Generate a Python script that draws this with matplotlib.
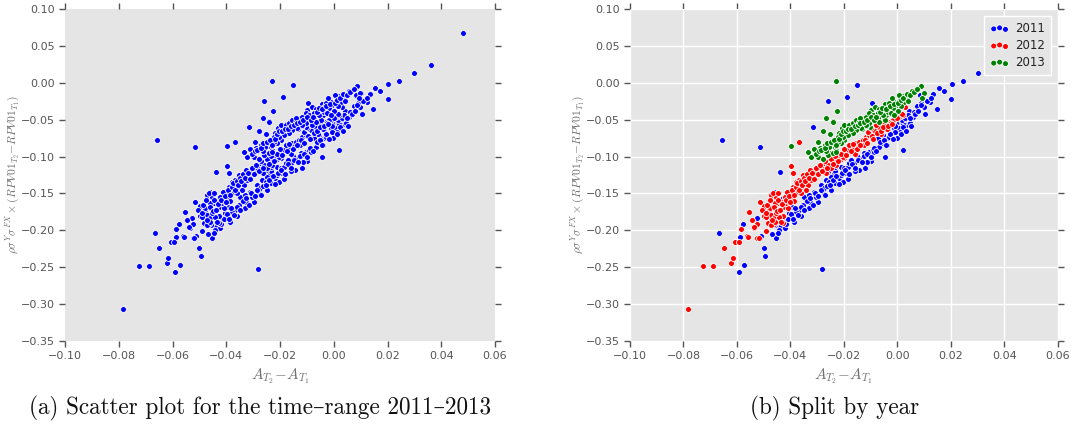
import matplotlib
matplotlib.use("Agg")
import matplotlib.pyplot as plt
import numpy as np

plt.rcParams['mathtext.fontset'] = 'cm'
plt.rcParams['axes.unicode_minus'] = True

years = ["2011", "2012", "2013"]
colors = ["#0000FF", "#FF0000", "#008000"]

x_2011 = [-0.0657, -0.0515, -0.0667, -0.0591, -0.0574, -0.0587, -0.0577, -0.0526, -0.0511, -0.0500,
          -0.0494, -0.0452, -0.0440, -0.0425, -0.0283, -0.0440, -0.0317, -0.0258, -0.0190, -0.0151,
          -0.0297, -0.0291, -0.0403, -0.0385, -0.0422, -0.0441, -0.0468, -0.0366, -0.0378, -0.0354,
          -0.0341, -0.0323, -0.0298, -0.0304, -0.0279, -0.0248, -0.0235, -0.0217, -0.0204, -0.0192,
          -0.0242, -0.0260, -0.0273, -0.0395, -0.0360, -0.0330, -0.0312, -0.0286, -0.0266, -0.0232,
          -0.0254, -0.0248, -0.0254, -0.0235, -0.0210, -0.0198, -0.0186, -0.0179, -0.0161, -0.0136,
          -0.0123, -0.0105, -0.0092, -0.0086, -0.0067, -0.0055, -0.0036, -0.0024, -0.0005, 0.0007,
          0.0013, 0.0026, 0.0032, -0.0036, -0.0055, -0.0074, -0.0074, -0.0005, -0.0011, -0.0150,
          -0.0172, 0.0244, 0.0203, 0.0154, 0.0173, 0.0135, 0.0200, 0.0084, 0.0101, 0.0122,
          0.0074, 0.0098, 0.0147, 0.0104, 0.0057, 0.0042, 0.0047, 0.0020, 0.0005, 0.0026,
          0.0011, -0.0008, -0.0030, -0.0003, 0.0016, 0.0030, 0.0038, 0.0062, 0.0300, 0.0360,
          0.0480, -0.0095, -0.0322, -0.0460, -0.0428, -0.0406, -0.0045, 0.0020, -0.0120, -0.0185,
          -0.0145, -0.0100, -0.0040, 0.0090, -0.0210, -0.0160, -0.0350, -0.0330, -0.0275, -0.0115,
          -0.0458, -0.0447, -0.0436, -0.0418, -0.0410, -0.0398, -0.0390, -0.0382, -0.0372, -0.0362,
          -0.0348, -0.0338, -0.0326, -0.0315, -0.0308, -0.0295, -0.0285, -0.0272, -0.0262, -0.0252,
          -0.0240, -0.0228, -0.0218, -0.0207, -0.0196, -0.0182, -0.0170, -0.0158, -0.0148, -0.0132,
          -0.0126, -0.0112, -0.0098, -0.0088, -0.0078, -0.0064, -0.0050, -0.0044, -0.0028, -0.0018,
          -0.0008, 0.0012, 0.0022, 0.0034, 0.0048, 0.0052, 0.0066, 0.0078, 0.0088, 0.0110,
          0.0125]
y_2011 = [-0.0775, -0.0870, -0.2030, -0.2570, -0.2465, -0.2090, -0.1910, -0.1836, -0.2070, -0.2238,
          -0.2343, -0.2110, -0.1950, -0.1841, -0.2520, -0.1205, -0.0595, -0.0250, -0.0190, -0.0030,
          -0.0934, -0.1114, -0.1814, -0.1882, -0.1972, -0.1995, -0.2050, -0.1724, -0.1747, -0.1656,
          -0.1589, -0.1634, -0.1611, -0.1543, -0.1476, -0.1453, -0.1363, -0.1295, -0.1340, -0.1227,
          -0.1250, -0.1227, -0.1191, -0.1690, -0.1800, -0.1700, -0.1480, -0.1390, -0.1320, -0.1200,
          -0.1182, -0.1272, -0.1340, -0.1137, -0.1137, -0.1160, -0.1137, -0.1092, -0.1092, -0.1024,
          -0.0956, -0.0934, -0.0911, -0.0934, -0.0866, -0.0821, -0.0753, -0.0730, -0.0663, -0.0640,
          -0.0550, -0.0527, -0.0572, -0.0640, -0.0708, -0.0753, -0.0663, -0.0550, -0.0617, -0.0990,
          -0.1040, 0.0028, -0.0021, -0.0075, -0.0107, -0.0152, -0.0220, -0.0166, -0.0134, -0.0256,
          -0.0310, -0.0333, -0.0360, -0.0428, -0.0459, -0.0383, -0.0550, -0.0563, -0.0608, -0.0640,
          -0.0663, -0.0663, -0.0730, -0.0744, -0.0505, -0.0473, -0.0437, -0.0395, 0.0137, 0.0240,
          0.0680, -0.0270, -0.1000, -0.1476, -0.1567, -0.1768, -0.1010, -0.0910, -0.1150, -0.1300,
          -0.1180, -0.1060, -0.0850, -0.0270, -0.1250, -0.1200, -0.1550, -0.1520, -0.1420, -0.1080,
          -0.1930, -0.2040, -0.1880, -0.1920, -0.1850, -0.1780, -0.1850, -0.1700, -0.1790, -0.1690,
          -0.1730, -0.1600, -0.1560, -0.1650, -0.1500, -0.1540, -0.1450, -0.1520, -0.1400, -0.1380,
          -0.1320, -0.1270, -0.1370, -0.1220, -0.1180, -0.1230, -0.1100, -0.1150, -0.1050, -0.1080,
          -0.0990, -0.0960, -0.1000, -0.0880, -0.0920, -0.0800, -0.0770, -0.0840, -0.0690, -0.0760,
          -0.0590, -0.0700, -0.0600, -0.0650, -0.0480, -0.0590, -0.0420, -0.0380, -0.0300, -0.0250,
          -0.0200]

x_2012 = [-0.0784, -0.0726, -0.0689, -0.0649, -0.0622, -0.0616, -0.0606, -0.0594, -0.0586, -0.0562,
          -0.0555, -0.0536, -0.0527, -0.0524, -0.0499, -0.0490, -0.0499, -0.0463, -0.0480, -0.0367,
          -0.0398, -0.0391, -0.0478, -0.0472, -0.0455, -0.0447, -0.0434, -0.0422, -0.0413, -0.0453,
          -0.0472, -0.0490, -0.0460, -0.0428, -0.0484, -0.0525, -0.0537, -0.0559, -0.0519, -0.0428,
          -0.0472, -0.0459, -0.0441, -0.0428, -0.0410, -0.0453, -0.0459, -0.0466, -0.0447, -0.0422,
          -0.0416, -0.0403, -0.0397, -0.0391, -0.0372, -0.0378, -0.0366, -0.0360, -0.0354, -0.0347,
          -0.0341, -0.0335, -0.0329, -0.0323, -0.0316, -0.0304, -0.0291, -0.0273, -0.0260, -0.0242,
          -0.0229, -0.0211, -0.0198, -0.0397, -0.0391, -0.0434, -0.0242, -0.0229, -0.0210, -0.0198,
          -0.0186, -0.0167, -0.0155, -0.0142, -0.0130, -0.0117, -0.0105, -0.0086, -0.0067, -0.0049,
          -0.0030, -0.0011, 0.0007, 0.0020, -0.0111, -0.0099, -0.0080, -0.0204, -0.0179, -0.0223,
          -0.0148, -0.0130, 0.0030, 0.0017, -0.0018, -0.0024, -0.0310, -0.0285, -0.0265, -0.0250,
          -0.0340, -0.0360, -0.0385, -0.0405, -0.0160, -0.0125, -0.0060, -0.0040, -0.0515, -0.0545,
          -0.0505, -0.0492, -0.0486, -0.0476, -0.0470, -0.0462, -0.0450, -0.0445, -0.0438, -0.0430,
          -0.0418, -0.0412, -0.0406, -0.0400, -0.0394, -0.0386, -0.0380, -0.0374, -0.0369, -0.0362,
          -0.0356, -0.0350, -0.0344, -0.0338, -0.0332, -0.0326, -0.0320, -0.0313, -0.0306, -0.0298,
          -0.0288, -0.0280, -0.0270, -0.0262, -0.0250, -0.0240, -0.0232, -0.0222, -0.0212, -0.0200,
          -0.0192, -0.0175, -0.0165, -0.0152, -0.0138, -0.0122, -0.0112, -0.0095, -0.0090, -0.0075,
          -0.0062, -0.0052, -0.0035, -0.0020, 0.0000]
y_2012 = [-0.3065, -0.2480, -0.2490, -0.2234, -0.2440, -0.2374, -0.2160, -0.2160, -0.1977, -0.2080,
          -0.1747, -0.1963, -0.1922, -0.2100, -0.1803, -0.2003, -0.1665, -0.1916, -0.1724, -0.0806,
          -0.1127, -0.1227, -0.1701, -0.1521, -0.1552, -0.1634, -0.1611, -0.1543, -0.1476, -0.1724,
          -0.1792, -0.1814, -0.1837, -0.1805, -0.1905, -0.1918, -0.1959, -0.2085, -0.2099, -0.1905,
          -0.1927, -0.1882, -0.1814, -0.1679, -0.1701, -0.1769, -0.1634, -0.1498, -0.1589, -0.1543,
          -0.1634, -0.1498, -0.1566, -0.1408, -0.1476, -0.1340, -0.1318, -0.1408, -0.1250, -0.1363,
          -0.1272, -0.1385, -0.1205, -0.1318, -0.1250, -0.1182, -0.1182, -0.1092, -0.1114, -0.1047,
          -0.1047, -0.1001, -0.1024, -0.1128, -0.1227, -0.1882, -0.1092, -0.1120, -0.1037, -0.0956,
          -0.0911, -0.0888, -0.0821, -0.0798, -0.0775, -0.0730, -0.0708, -0.0640, -0.0595, -0.0550,
          -0.0527, -0.0504, -0.0459, -0.0437, -0.0663, -0.0617, -0.0572, -0.1001, -0.0843, -0.0979,
          -0.0866, -0.0843, -0.0333, -0.0423, -0.0505, -0.0550, -0.1290, -0.1160, -0.1220, -0.1150,
          -0.1460, -0.1500, -0.1600, -0.1620, -0.0960, -0.0850, -0.0700, -0.0620, -0.1610, -0.1860,
          -0.1720, -0.1760, -0.1650, -0.1585, -0.1865, -0.1690, -0.1740, -0.1495, -0.1720, -0.1640,
          -0.1590, -0.1480, -0.1540, -0.1610, -0.1460, -0.1520, -0.1410, -0.1365, -0.1450, -0.1330,
          -0.1380, -0.1290, -0.1330, -0.1240, -0.1290, -0.1180, -0.1220, -0.1300, -0.1150, -0.1230,
          -0.1120, -0.1190, -0.1060, -0.1160, -0.1030, -0.1100, -0.0990, -0.1060, -0.0960, -0.0900,
          -0.0980, -0.0930, -0.0830, -0.0900, -0.0850, -0.0780, -0.0820, -0.0720, -0.0760, -0.0680,
          -0.0650, -0.0600, -0.0580, -0.0560, -0.0480]

x_2013 = [-0.0229, -0.0226, -0.0265, -0.0242, -0.0206, -0.0178, -0.0163, -0.0135, -0.0117, -0.0100,
          -0.0082, -0.0067, -0.0052, -0.0045, -0.0036, -0.0061, -0.0073, -0.0089, -0.0102, -0.0118,
          -0.0133, -0.0151, -0.0042, -0.0048, -0.0242, -0.0217, -0.0198, -0.0179, -0.0167, -0.0155,
          -0.0142, -0.0130, -0.0117, -0.0105, -0.0092, -0.0074, -0.0055, -0.0036, -0.0067, -0.0105,
          -0.0117, -0.0136, -0.0155, -0.0167, -0.0186, -0.0198, -0.0210, -0.0223, -0.0235, -0.0248,
          -0.0229, -0.0204, -0.0223, -0.0242, 0.0088, 0.0055, 0.0098, 0.0094, 0.0032, 0.0017,
          0.0005, 0.0026, 0.0007, -0.0011, -0.0005, 0.0014, -0.0018, 0.0001, -0.0024, -0.0011,
          -0.0030, -0.0323, -0.0298, -0.0279, -0.0260, -0.0242, -0.0229, -0.0397, -0.0295, -0.0279,
          -0.0251, -0.0335, -0.0310, -0.0290, -0.0270, -0.0255, -0.0265, -0.0020, 0.0040, -0.0140,
          -0.0305, -0.0292, -0.0284, -0.0272, -0.0262, -0.0250, -0.0238, -0.0231, -0.0220, -0.0212,
          -0.0203, -0.0192, -0.0183, -0.0172, -0.0160, -0.0148, -0.0138, -0.0126, -0.0113, -0.0098,
          -0.0086, -0.0078, -0.0064, -0.0056, -0.0044, -0.0028, -0.0014, 0.0004, 0.0012, 0.0022,
          0.0036, 0.0048, 0.0062, 0.0074, 0.0040]
y_2013 = [0.0024, -0.0383, -0.0482, -0.0518, -0.0613, -0.0559, -0.0559, -0.0563, -0.0514, -0.0369,
          -0.0324, -0.0356, -0.0369, -0.0288, -0.0333, -0.0414, -0.0482, -0.0468, -0.0595, -0.0590,
          -0.0622, -0.0617, -0.0437, -0.0505, -0.0527, -0.0685, -0.0572, -0.0572, -0.0550, -0.0504,
          -0.0527, -0.0482, -0.0459, -0.0414, -0.0437, -0.0414, -0.0437, -0.0392, -0.0527, -0.0550,
          -0.0572, -0.0617, -0.0640, -0.0685, -0.0708, -0.0775, -0.0821, -0.0798, -0.0866, -0.0956,
          -0.0911, -0.0730, -0.0730, -0.0821, -0.0039, -0.0112, -0.0143, -0.0211, -0.0188, -0.0179,
          -0.0166, -0.0256, -0.0243, -0.0256, -0.0301, -0.0315, -0.0346, -0.0378, -0.0414, -0.0437,
          -0.0279, -0.1001, -0.1010, -0.1037, -0.0974, -0.0956, -0.0934, -0.0860, -0.0806, -0.0653,
          -0.0694, -0.0935, -0.0900, -0.0880, -0.0850, -0.0870, -0.0920, -0.0200, -0.0220, -0.0480,
          -0.0960, -0.0930, -0.0905, -0.0890, -0.0820, -0.0800, -0.0770, -0.0840, -0.0760, -0.0700,
          -0.0660, -0.0650, -0.0620, -0.0620, -0.0590, -0.0570, -0.0550, -0.0530, -0.0500, -0.0470,
          -0.0500, -0.0460, -0.0400, -0.0340, -0.0360, -0.0320, -0.0290, -0.0280, -0.0230, -0.0200,
          -0.0150, -0.0160, -0.0130, -0.0080, -0.0250]

series_x = [x_2011, x_2012, x_2013]
series_y = [y_2011, y_2012, y_2013]

x_ticks = [-0.10, -0.08, -0.06, -0.04, -0.02, 0.00, 0.02, 0.04, 0.06]
y_ticks = [-0.35, -0.30, -0.25, -0.20, -0.15, -0.10, -0.05, 0.00, 0.05, 0.10]

xlabel = r"$A_{T_2}\!-\!A_{T_1}$"
ylabel = r"$\rho\sigma^Y\sigma^{FX}\times(RPV01_{T_2}\!-\!RPV01_{T_1})$"
captions = ["(a) Scatter plot for the time\u2013range 2011\u20132013", "(b) Split by year"]

TICK_GREY = "#555555"
LABEL_GREY = "#6f6f6f"

fig = plt.figure(figsize=(10.75, 4.26), dpi=100)
ax_all = fig.add_axes([0.0605, 0.1995, 0.4, 0.7794])
ax_year = fig.add_axes([0.586, 0.1995, 0.398, 0.7794])


def style_axes(ax, grid):
    ax.set_facecolor("#E5E5E5")
    for sp in ax.spines.values():
        sp.set_visible(False)
    ax.set_xlim(-0.10, 0.06)
    ax.set_ylim(-0.35, 0.10)
    ax.set_xticks(x_ticks)
    ax.set_yticks(y_ticks)
    ax.set_xticklabels([f"{t:.2f}".replace("-", "\u2212") for t in x_ticks])
    ax.set_yticklabels([f"{t:.2f}".replace("-", "\u2212") for t in y_ticks])
    ax.tick_params(direction="out", length=4, width=1, color=TICK_GREY,
                   labelcolor=TICK_GREY, labelsize=8, top=True, right=True,
                   labeltop=False, labelright=False, pad=3)
    if grid:
        ax.grid(True, color="white", linewidth=1.0)
        ax.set_axisbelow(True)
    ax.set_xlabel(xlabel, fontsize=11, color=LABEL_GREY, labelpad=4)
    ax.set_ylabel(ylabel, fontsize=8.3, color=LABEL_GREY)
    ax.yaxis.set_label_coords(-0.10, 0.5)


style_axes(ax_all, grid=False)
style_axes(ax_year, grid=True)

all_x = np.concatenate([np.asarray(v) for v in series_x])
all_y = np.concatenate([np.asarray(v) for v in series_y])
ax_all.scatter(all_x, all_y, s=18, c=colors[0], edgecolors="white", linewidths=0.6, zorder=3)

for xs, ys, col, yr in zip(series_x, series_y, colors, years):
    ax_year.scatter(xs, ys, s=18, c=col, edgecolors="white", linewidths=0.6, zorder=3, label=yr)

leg = ax_year.legend(loc="upper right", scatterpoints=3, fontsize=8.5, frameon=True,
                     framealpha=1.0, borderpad=0.5, handletextpad=0.5, labelspacing=0.35,
                     handlelength=1.6, borderaxespad=0.6)
leg.set_zorder(5)
leg.get_frame().set_facecolor("#E5E5E5")
leg.get_frame().set_edgecolor("white")
leg.get_frame().set_linewidth(1.0)
leg.get_frame().set_boxstyle("square", pad=0)
for t in leg.get_texts():
    t.set_color("#222222")

cap_font = ["cmr10", "DejaVu Serif"]
fig.text(260 / 1075, 1 - 408 / 426, captions[0], ha="center", va="center",
         fontsize=16.7, family=cap_font, color="#111111")
fig.text(835 / 1075, 1 - 408 / 426, captions[1], ha="center", va="center",
         fontsize=16.7, family=cap_font, color="#111111")

fig.savefig("out.png", dpi=100)
